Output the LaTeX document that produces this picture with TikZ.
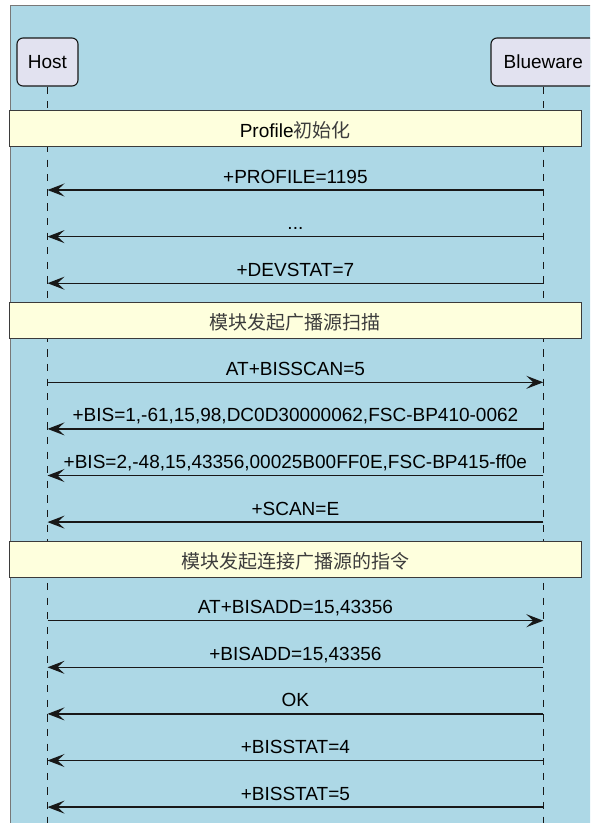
\documentclass[tikz,border=0pt]{standalone}
\usepackage{fontspec}
\setmainfont{Liberation Sans}
\newfontfamily\cjk{Noto Sans CJK SC}
\usetikzlibrary{arrows.meta}
\definecolor{bgblue}{RGB}{173,216,230}
\definecolor{notefill}{RGB}{254,255,221}
\definecolor{partfill}{RGB}{226,226,240}
\definecolor{linedark}{RGB}{24,24,24}
\definecolor{framegray}{RGB}{120,120,120}
\definecolor{cjkgray}{RGB}{60,60,60}
\tikzset{
  txt/.style={font=\fontsize{19}{23}\selectfont, text=black},
  lbl/.style={txt, anchor=base, inner sep=0pt, yshift=7pt},
  msg/.style={line width=1.3pt, draw=linedark, -{Stealth[length=17pt,width=13pt,inset=7pt]}},
  part/.style={txt, draw=linedark, fill=partfill, line width=1.1pt, rounded corners=6pt,
    minimum height=48pt, inner sep=0pt},
  life/.style={draw=linedark, line width=1.2pt, dash pattern=on 7.3pt off 7.3pt},
  notebox/.style={txt, draw=linedark!85, fill=notefill, line width=1pt,
    minimum width=571.5pt, minimum height=36pt, inner ysep=0pt, text height=18pt, text depth=0pt},
}
\begin{document}
\begin{tikzpicture}[x=1pt,y=-1pt]
\clip (0,0) rectangle (590,823);
\fill[white] (0,0) rectangle (590,823);
\draw[fill=bgblue, draw=framegray, line width=1.4pt] (10.5,5.5) rectangle (620,850);

% participants
\node[part, minimum width=61pt] (host) at (47.5,62) {Host};
\node[part, minimum width=104.6pt] (blue) at (543.3,62) {Blueware};
\coordinate (hostend) at (47.5,830);
\coordinate (blueend) at (543.3,830);
\draw[life] (host.south) -- (hostend);
\draw[life] (blue.south) -- (blueend);

% anchor points on the lifelines
\foreach \i/\y in {1/190, 2/236.6, 3/283.2, 4/382.3, 5/428.9, 6/475.5, 7/522.1,
                   8/620.7, 9/667.3, 10/713.9, 11/760.5, 12/807.1} {
  \coordinate (h\i) at (47.5,\y);
  \coordinate (b\i) at (543.3,\y);
}

% notes
\node[notebox] (note1) at (295.25,128) {Profile{\cjk\color{cjkgray}初始化}};
\node[notebox] (note2) at (295.25,320.5) {\cjk\color{cjkgray}模块发起广播源扫描};
\node[notebox] (note3) at (295.25,559) {\cjk\color{cjkgray}模块发起连接广播源的指令};

% messages
\draw[msg] (b1) -- node[lbl] (m1) {+PROFILE=1195} (h1);
\draw[msg] (b2) -- node[lbl] (m2) {...} (h2);
\draw[msg] (b3) -- node[lbl] (m3) {+DEVSTAT=7} (h3);
\draw[msg] (h4) -- node[lbl] (m4) {AT+BISSCAN=5} (b4);
\draw[msg] (b5) -- node[lbl] (m5) {+BIS=1,-61,15,98,DC0D30000062,FSC-BP410-0062} (h5);
\draw[msg] (b6) -- node[lbl] (m6) {+BIS=2,-48,15,43356,00025B00FF0E,FSC-BP415-ff0e} (h6);
\draw[msg] (b7) -- node[lbl] (m7) {+SCAN=E} (h7);
\draw[msg] (h8) -- node[lbl] (m8) {AT+BISADD=15,43356} (b8);
\draw[msg] (b9) -- node[lbl] (m9) {+BISADD=15,43356} (h9);
\draw[msg] (b10) -- node[lbl] (m10) {OK} (h10);
\draw[msg] (b11) -- node[lbl] (m11) {+BISSTAT=4} (h11);
\draw[msg] (b12) -- node[lbl] (m12) {+BISSTAT=5} (h12);
\end{tikzpicture}
\end{document}
